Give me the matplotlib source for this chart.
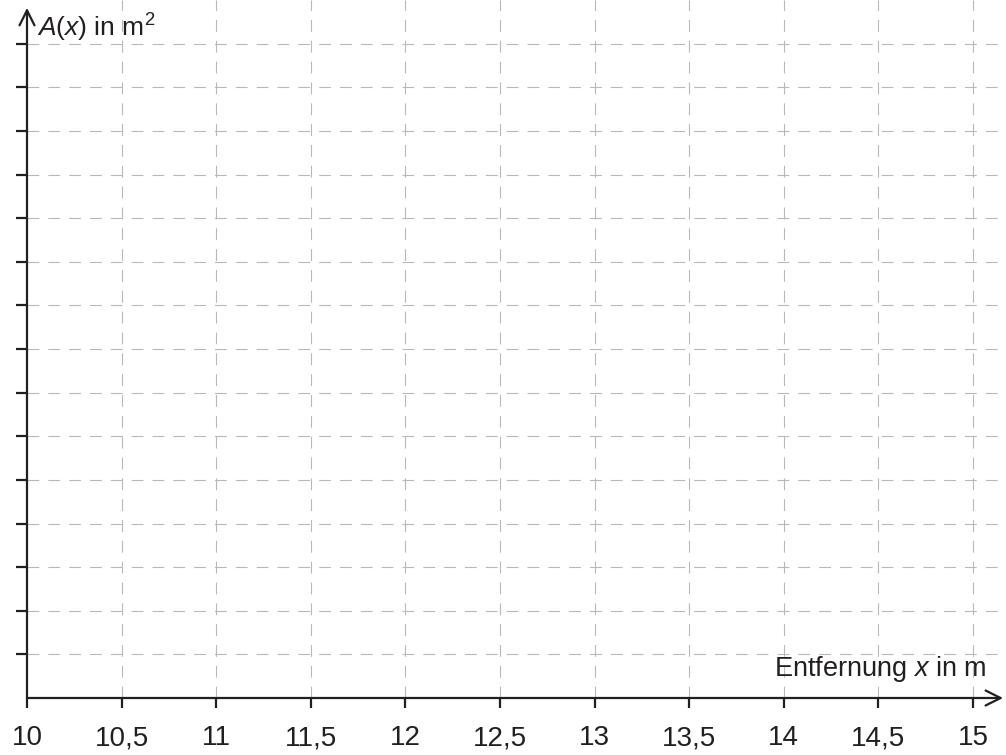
import matplotlib.pyplot as plt
import numpy as np

plt.rcParams['font.family'] = ['Liberation Sans', 'DejaVu Sans']
plt.rcParams['mathtext.fontset'] = 'custom'
plt.rcParams['mathtext.rm'] = 'Liberation Sans'
plt.rcParams['mathtext.it'] = 'Liberation Sans:italic'
plt.rcParams['lines.scale_dashes'] = False

# axis data
x_ticks = [10, 10.5, 11, 11.5, 12, 12.5, 13, 13.5, 14, 14.5, 15]
x_labels = ['10', '10,5', '11', '11,5', '12', '12,5', '13', '13,5', '14', '14,5', '15']
y_ticks = list(range(1, 16))
x_max = 15.164
y_max = 16

fig = plt.figure(figsize=(10.06, 7.55), dpi=100)
ax = fig.add_axes([27 / 1006, 57 / 755, 977 / 1006, 698 / 755])
ax.set_xlim(10, x_max)
ax.set_ylim(0, y_max)

for s in ax.spines.values():
    s.set_visible(False)

# grid
grid_kw = dict(color='#b8b8b8', lw=0.8, ls=(0, (8.5, 6.5)), zorder=1)
for xv in x_ticks[1:]:
    ax.axvline(xv, **grid_kw)
for yv in y_ticks:
    ax.axhline(yv, **grid_kw)

# axes with arrows
ax.annotate('', xy=(x_max - 0.005, 0), xytext=(10, 0),
            arrowprops=dict(arrowstyle='->', lw=1.6, color='#231f20',
                            mutation_scale=27, shrinkA=0, shrinkB=0),
            annotation_clip=False, zorder=3)
ax.annotate('', xy=(10, 15.82), xytext=(10, 0),
            arrowprops=dict(arrowstyle='->', lw=1.6, color='#231f20',
                            mutation_scale=27, shrinkA=0, shrinkB=0),
            annotation_clip=False, zorder=3)

ax.set_xticks(x_ticks)
ax.set_xticklabels(x_labels)
ax.set_yticks(y_ticks)
ax.set_yticklabels([])
ax.tick_params(axis='x', direction='out', length=7.5, width=1.6, color='#231f20',
               labelsize=20, labelcolor='#231f20', pad=12)
ax.tick_params(axis='y', direction='out', length=8, width=1.6, color='#231f20')

ax.text(15.074, 0.5, 'Entfernung $x$ in m', ha='right', va='baseline',
        fontsize=19.5, color='#231f20')
ax.text(10.055, 15.15, '$A$($x$) in m$^2$', ha='left', va='baseline',
        fontsize=19, color='#231f20')

fig.savefig('out.png', dpi=100)
